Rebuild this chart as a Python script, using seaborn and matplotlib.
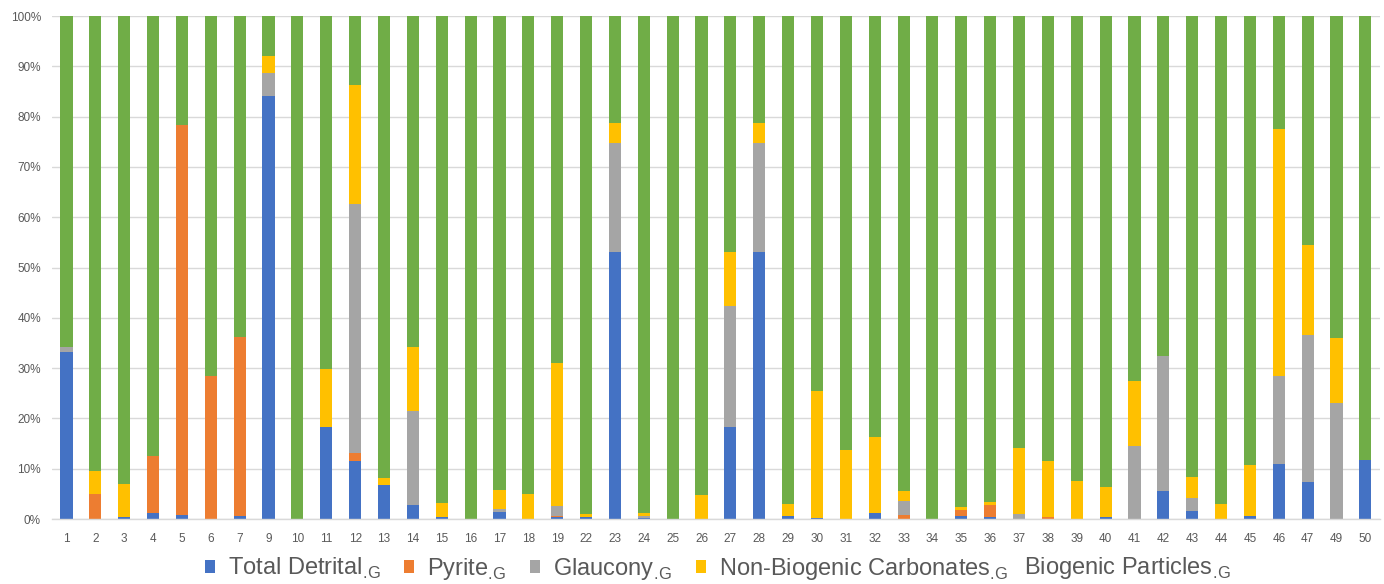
import numpy as np
import pandas as pd
import matplotlib
matplotlib.use("Agg")
import matplotlib.pyplot as plt
import seaborn as sns
from matplotlib.patches import Patch
from matplotlib.ticker import PercentFormatter
from matplotlib.transforms import IdentityTransform

categories = ["1", "2", "3", "4", "5", "6", "7", "9", "10", "11", "12", "13", "14", "15", "16",
              "17", "18", "19", "22", "23", "24", "25", "26", "27", "28", "29", "30", "31", "32",
              "33", "34", "35", "36", "37", "38", "39", "40", "41", "42", "43", "44", "45", "46",
              "47", "49", "50"]

total_detrital = [33.3, 0, 0.4, 1.1, 0.7, 0, 0.5, 84.1, 0, 18.3, 11.5, 6.8, 2.8, 0.4, 0,
                  1.4, 0, 0.3, 0.4, 53.1, 0.2, 0, 0, 18.3, 53.1, 0.5, 0.2, 0, 1.1,
                  0, 0, 0.5, 0.3, 0, 0, 0, 0.4, 0, 5.6, 1.5, 0, 0.5, 10.9,
                  7.4, 0, 11.8]
pyrite = [0, 5.0, 0, 11.4, 77.6, 28.4, 35.6, 0, 0, 0, 1.7, 0, 0, 0, 0,
          0, 0, 0.2, 0, 0, 0, 0, 0, 0, 0, 0, 0, 0, 0,
          0.8, 0, 1.3, 2.5, 0, 0.4, 0, 0, 0, 0, 0, 0, 0, 0,
          0, 0, 0]
glaucony = [0.8, 0, 0, 0, 0, 0, 0, 4.6, 0, 0, 49.4, 0, 18.6, 0, 0,
            0.5, 0, 2.1, 0, 21.7, 0.4, 0, 0, 24.0, 21.7, 0, 0, 0, 0,
            2.8, 0, 0, 0, 0.9, 0, 0, 0, 14.6, 26.9, 2.6, 0, 0, 17.6,
            29.2, 23.1, 0]
non_biogenic_carbonates = [0, 4.5, 6.6, 0, 0, 0, 0, 3.3, 0, 11.5, 23.6, 1.3, 12.7, 2.7, 0,
                           3.8, 5.0, 28.4, 0.5, 4.0, 0.5, 0, 4.7, 10.8, 4.0, 2.4, 25.2, 13.8, 15.3,
                           2.0, 0, 0.6, 0.5, 13.2, 11.2, 7.5, 5.9, 12.8, 0, 4.2, 2.9, 10.2, 49.0,
                           17.8, 12.8, 0]
biogenic_particles = [65.9, 90.5, 93.0, 87.5, 21.7, 71.6, 63.9, 8.0, 100, 70.2, 13.8, 91.9, 65.9, 96.9, 100,
                      94.3, 95.0, 69.0, 99.1, 21.2, 98.9, 100, 95.3, 46.9, 21.2, 97.1, 74.6, 86.2, 83.6,
                      94.4, 100, 97.6, 96.7, 85.9, 88.4, 92.5, 93.7, 72.6, 67.5, 91.7, 97.1, 89.3, 22.5,
                      45.6, 64.1, 88.2]

sub = r"$_{\mathregular{.\!G}}$"
series_names = ["Total Detrital" + sub, "Pyrite" + sub, "Glaucony" + sub,
                "Non-Biogenic Carbonates" + sub, "Biogenic Particles" + sub]
colors = ["#4472C4", "#ED7D31", "#A5A5A5", "#FFC000", "#70AD47"]

df = pd.DataFrame({
    "sample": categories,
    "td": total_detrital,
    "py": pyrite,
    "gl": glaucony,
    "nbc": non_biogenic_carbonates,
    "bio": biogenic_particles,
})
cols = ["td", "py", "gl", "nbc", "bio"]
tot = df[cols].sum(axis=1)
pct = df[cols].div(tot, axis=0) * 100
cum = pct.cumsum(axis=1)

sns.set_theme(style="white")
plt.rcParams["font.family"] = ["Liberation Sans", "DejaVu Sans"]

fig = plt.figure(figsize=(13.84, 5.84), dpi=100)
ax = fig.add_axes([0.0376, 0.1113, 0.9594, 0.8613])

for i in range(len(cols) - 1, -1, -1):
    sns.barplot(x=df["sample"], y=cum[cols[i]], order=categories, color=colors[i],
                saturation=1, width=0.42, linewidth=0, ax=ax, zorder=2)

ax.set_ylim(0, 100)
ax.set_xlim(-0.5, len(categories) - 0.5)
ax.set_yticks(np.arange(0, 101, 10))
ax.yaxis.set_major_formatter(PercentFormatter(decimals=0))
ax.grid(axis="y", color="#D9D9D9", linewidth=1, zorder=0)
ax.grid(axis="x", visible=False)
ax.set_axisbelow(True)
for s in ["left", "right", "top"]:
    ax.spines[s].set_visible(False)
ax.spines["bottom"].set_color("#D9D9D9")
ax.spines["bottom"].set_linewidth(1)
ax.tick_params(axis="both", length=0, labelsize=8.5, colors="#595959")
ax.tick_params(axis="x", pad=10)
ax.tick_params(axis="y", pad=8)
ax.set_xlabel("")
ax.set_ylabel("")

# Legend: the last series has no visible key in the reference
handles = [Patch(facecolor=c, edgecolor="none") for c in colors[:4]]
leg = fig.legend(handles, series_names[:4], loc="center left",
                 bbox_to_anchor=(205 / 1384, 0.026), ncol=4,
                 frameon=False, fontsize=17, handlelength=0.42, handleheight=0.42,
                 handletextpad=0.55, columnspacing=1.0, labelcolor="#595959",
                 borderpad=0, borderaxespad=0)
fig.canvas.draw()
bb = leg.get_window_extent()
tb = leg.get_texts()[0].get_window_extent()
fig.text(bb.x1 + 16, (tb.y0 + tb.y1) / 2, series_names[4], transform=IdentityTransform(),
         fontsize=17, color="#595959", ha="left", va="center")

fig.savefig("out.png", dpi=100)
